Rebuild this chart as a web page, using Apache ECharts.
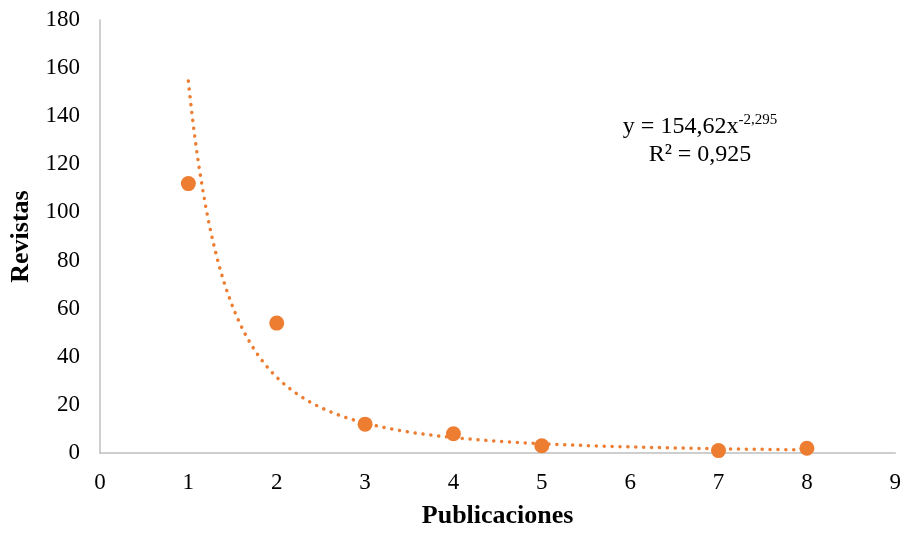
<!DOCTYPE html>
<html>
<head>
<meta charset="utf-8">
<script src="https://cdn.jsdelivr.net/npm/echarts@6/dist/echarts.min.js"></script>
<style>
html,body{margin:0;padding:0;background:#fff;}
#chart{width:904px;height:534px;}
</style>
</head>
<body>
<div id="chart"></div>
<script>
// Data
const publicaciones = [1, 2, 3, 4, 5, 7, 8];
const revistas = [112, 54, 12, 8, 3, 1, 2];
// Power trendline shown on the chart: y = 154,62 x^-2,295
const trendA = 154.62;
const trendB = -2.295;
const trendFrom = 1;
const trendTo = 8;
const equationLine1 = 'y = 154,62x';
const equationExp = '-2,295';
const equationLine2 = 'R² = 0,925';

const font = '"Liberation Serif", "Times New Roman", serif';
const orange = '#ED7D31';

const scatterData = publicaciones.map((x, i) => [x, revistas[i]]);
const trendData = [];
for (let x = trendFrom; x <= trendTo + 1e-9; x += 0.02) {
  trendData.push([x, trendA * Math.pow(x, trendB)]);
}

const chart = echarts.init(document.getElementById('chart'), null, {renderer: 'canvas'});
chart.setOption({
  animation: false,
  backgroundColor: '#ffffff',
  grid: {left: 100, right: 7, top: 20, bottom: 81, containLabel: false},
  title: {
    left: 695, top: 108, textAlign: 'center',
    text: '{a|' + equationLine1 + '}{b|' + equationExp + '}\n{c|' + equationLine2 + '}',
    textStyle: {
      fontWeight: 'normal',
      rich: {
        a: {fontFamily: font, fontSize: 24, fontWeight: 'normal', color: '#000', lineHeight: 28},
        b: {fontFamily: font, fontSize: 15, fontWeight: 'normal', color: '#000', verticalAlign: 'top', lineHeight: 28, padding: [0, 0, 10, 0]},
        c: {fontFamily: font, fontSize: 24, fontWeight: 'normal', color: '#000', lineHeight: 28, align: 'center'}
      }
    }
  },
  xAxis: {
    type: 'value', min: 0, max: 9, interval: 1,
    name: 'Publicaciones', nameLocation: 'middle', nameGap: 50,
    nameTextStyle: {fontFamily: font, fontSize: 26, fontWeight: 'bold', color: '#000'},
    axisLine: {show: true, lineStyle: {color: '#BFBFBF', width: 1.5}},
    axisTick: {show: false},
    splitLine: {show: false},
    axisLabel: {fontFamily: font, fontSize: 23, color: '#000', margin: 18}
  },
  yAxis: {
    type: 'value', min: 0, max: 180, interval: 20,
    name: 'Revistas', nameLocation: 'middle', nameGap: 65,
    nameTextStyle: {fontFamily: font, fontSize: 26, fontWeight: 'bold', color: '#000'},
    axisLine: {show: true, lineStyle: {color: '#BFBFBF', width: 1.5}},
    axisTick: {show: false},
    splitLine: {show: false},
    axisLabel: {fontFamily: font, fontSize: 23, color: '#000', margin: 20}
  },
  series: [
    {
      type: 'line', data: trendData, showSymbol: false, smooth: false, z: 2,
      lineStyle: {color: orange, width: 3.5, type: [0.1, 7.8], cap: 'round'}
    },
    {
      type: 'scatter', data: scatterData, symbol: 'circle', symbolSize: 15, z: 3,
      itemStyle: {color: orange, opacity: 1}
    }
  ]
});
</script>
</body>
</html>
